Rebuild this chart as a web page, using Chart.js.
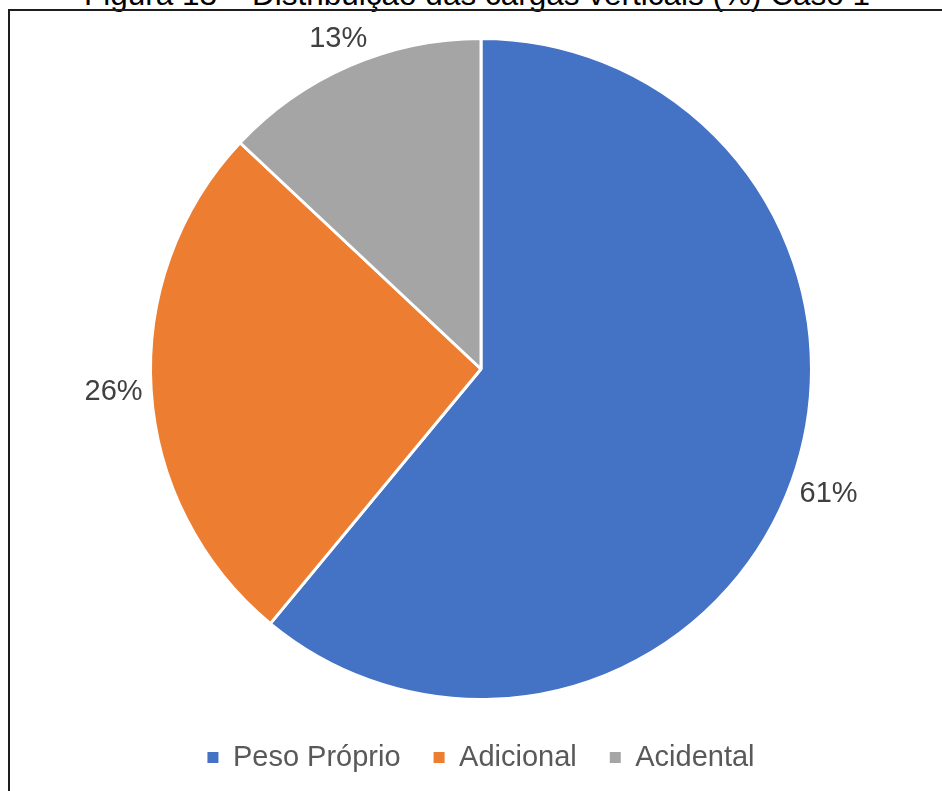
<!DOCTYPE html>
<html lang="pt">
<head>
<meta charset="utf-8">
<title>Distribuição das cargas verticais</title>
<script src="https://cdn.jsdelivr.net/npm/chart.js@4/dist/chart.umd.min.js"></script>
<style>
  html, body { margin: 0; padding: 0; background: #fff; overflow: hidden; }
  body { width: 942px; height: 791px; position: relative; font-family: "Liberation Sans", Arial, sans-serif; }
  #titulo {
    position: absolute; left: 0; top: -21px; width: 954px;
    text-align: center; font-size: 31.5px; line-height: 31px; color: #000; white-space: nowrap;
  }
  #moldura {
    position: absolute; left: 8px; top: 9px; width: 1000px; height: 900px;
    border-left: 2px solid #1e1e1e; border-top: 2px solid #1e1e1e;
  }
  #caixa { position: absolute; left: 0; top: 0; width: 942px; height: 791px; }
</style>
</head>
<body>
<div id="titulo">Figura 13 – Distribuição das cargas verticais (%) Caso 1</div>
<div id="moldura"></div>
<div id="caixa"><canvas id="grafico"></canvas></div>

<script>
// dados do gráfico
const categorias = ['Peso Próprio', 'Adicional', 'Acidental'];
const valores = [61, 26, 13];
const cores = ['#4472C4', '#ED7D31', '#A5A5A5'];

const fonte = '"Liberation Sans", Arial, sans-serif';

// rótulos de porcentagem fora das fatias
const rotulos = {
  id: 'rotulos',
  afterDatasetsDraw(chart) {
    const ctx = chart.ctx;
    const meta = chart.getDatasetMeta(0);
    ctx.save();
    ctx.font = '29px ' + fonte;
    ctx.fillStyle = '#404040';
    ctx.textAlign = 'center';
    ctx.textBaseline = 'middle';
    meta.data.forEach((arc, i) => {
      const p = arc.getProps(['x', 'y', 'startAngle', 'endAngle', 'outerRadius'], true);
      const meio = (p.startAngle + p.endAngle) / 2;
      const cx = Math.cos(meio), cy = Math.sin(meio);
      const texto = valores[i] + '%';
      const w = ctx.measureText(texto).width;
      const d = p.outerRadius + 8 + Math.abs(cx) * w / 2 + Math.abs(cy) * 10.5;
      ctx.fillText(texto, p.x + cx * d, p.y + cy * d);
    });
    ctx.restore();
  }
};

const ctx = document.getElementById('grafico').getContext('2d');
const grafico = new Chart(ctx, {
  type: 'pie',
  data: {
    labels: categorias,
    datasets: [{
      data: valores,
      backgroundColor: cores,
      borderColor: '#ffffff',
      borderWidth: 3,
      hoverOffset: 0,
      offset: 0
    }]
  },
  options: {
    responsive: true,
    maintainAspectRatio: false,
    animation: false,
    events: [],
    // a largura limita o raio; a altura sobra para afastar a legenda
    layout: {
      padding: { top: 28, bottom: 9, left: 149, right: 129 }
    },
    plugins: {
      tooltip: { enabled: false },
      legend: {
        position: 'bottom',
        labels: {
          font: { family: fonte, size: 29 },
          color: '#595959',
          boxWidth: 11,
          boxHeight: 11,
          padding: 33,
          generateLabels(chart) {
            const itens = Chart.overrides.doughnut.plugins.legend.labels.generateLabels(chart);
            return itens.map(it => ({ ...it, lineWidth: 0 }));
          }
        }
      }
    }
  },
  plugins: [rotulos]
});
</script>
</body>
</html>
